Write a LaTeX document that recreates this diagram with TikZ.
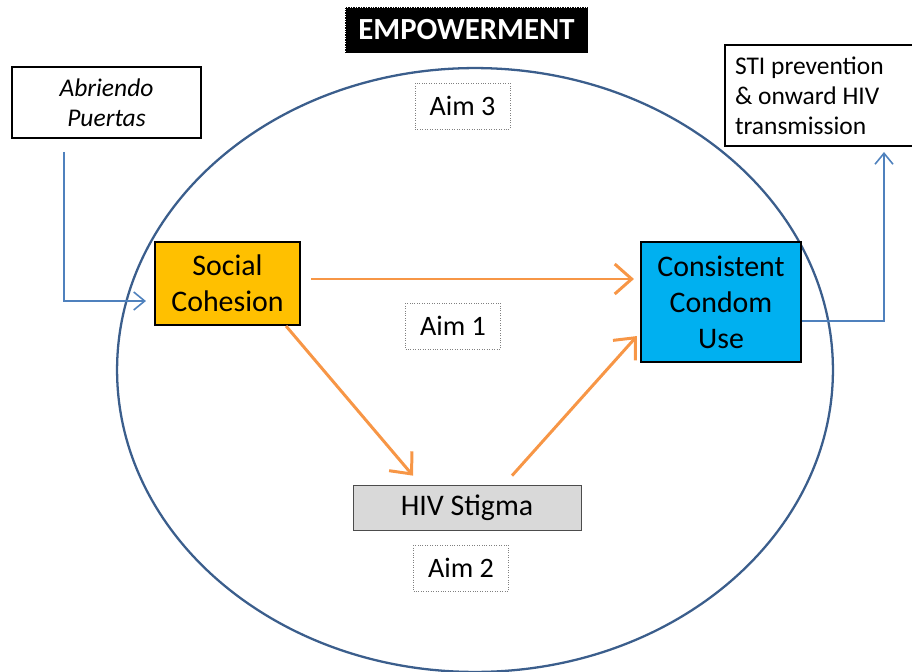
\documentclass[tikz,border=0pt]{standalone}
\usepackage{fontspec}
\setmainfont{Carlito}
\usetikzlibrary{arrows.meta,calc}
\definecolor{ellblue}{HTML}{3B5E8C}
\definecolor{linkblue}{HTML}{4F81BD}
\definecolor{pathorange}{HTML}{F79646}
\definecolor{cohesion}{HTML}{FFC000}
\definecolor{condom}{HTML}{00B0F0}
\definecolor{stigma}{HTML}{D9D9D9}
\begin{document}
\begin{tikzpicture}
          [x=0.02cm, y=-0.02cm,
          font=\fontsize{17}{20.4}\selectfont,
          var/.style={shape=rectangle,draw=black,very thick,align=center,inner sep=0pt},
          outer/.style={shape=rectangle,draw=black,thick,inner sep=0pt,font=\fontsize{14.5}{17}\selectfont},
          aim/.style={shape=rectangle,draw=gray,densely dotted,thin,minimum width=1.9cm,minimum height=0.92cm,inner sep=0pt,font=\fontsize{16}{19}\selectfont},
          path/.style={-{Straight Barb[length=3.4mm,width=6mm]},pathorange,line width=1.7pt},
          link/.style={-{Straight Barb[length=2.2mm,width=3.6mm]},linkblue,line width=0.9pt}]

            \useasboundingbox (0,0) rectangle (912,672);

            % the empowerment ellipse
            \draw [ellblue,line width=1.3pt] (475,370) ellipse [x radius=7.16cm, y radius=6.04cm];

            \node (emp) [fill=black,draw=white,densely dotted,text=white,font=\fontsize{17.5}{20}\selectfont\bfseries,minimum width=4.86cm,minimum height=0.92cm,inner sep=0pt] at (466.5,30) {EMPOWERMENT};

            \node (sc) [var,fill=cohesion,minimum width=2.9cm,minimum height=1.66cm] at (227.5,283.5) {Social\\Cohesion};
            \node (ccu) [var,fill=condom,minimum width=3.2cm,minimum height=2.4cm] at (721,302) {Consistent\\Condom\\Use};
            \node (hs) [shape=rectangle,draw=black!70,thin,fill=stigma,minimum width=4.56cm,minimum height=0.9cm,inner sep=0pt] at (467,507.5) {HIV Stigma};

            \node (ap) [outer,align=center,minimum width=3.78cm,minimum height=1.42cm] at (106.5,102.5) {\itshape Abriendo\\\itshape Puertas};
            \node (sti) [outer,align=flush left,minimum width=3.8cm,minimum height=2.02cm,text width=3.4cm] at (820,95.5) {STI prevention\\\& onward HIV\\transmission};

            \node (aim3) [aim] at (462.5,106) {Aim 3};
            \node (aim1) [aim] at (453,326) {Aim 1};
            \node (aim2) [aim] at (461,568) {Aim 2};

            \coordinate (apout) at (64,152);
            \coordinate (stiin) at (884,152);

            \draw [path] ($(sc.east)+(10,-4.5)$) -- ($(ccu.west)+(-6,-23)$);
            \draw [path] ($(sc.south east)+(-15,0)$) -- ($(hs.north)+(-54,-9)$);
            \draw [path] ($(hs.north)+(45,-9)$) -- ($(ccu.south west)+(-3,-27)$);

            \draw [link] (apout) |- ($(sc.west)+(-8,17.5)$);
            \draw [link] ($(ccu.east)+(0,19)$) -| (stiin);

        \end{tikzpicture}
\end{document}
